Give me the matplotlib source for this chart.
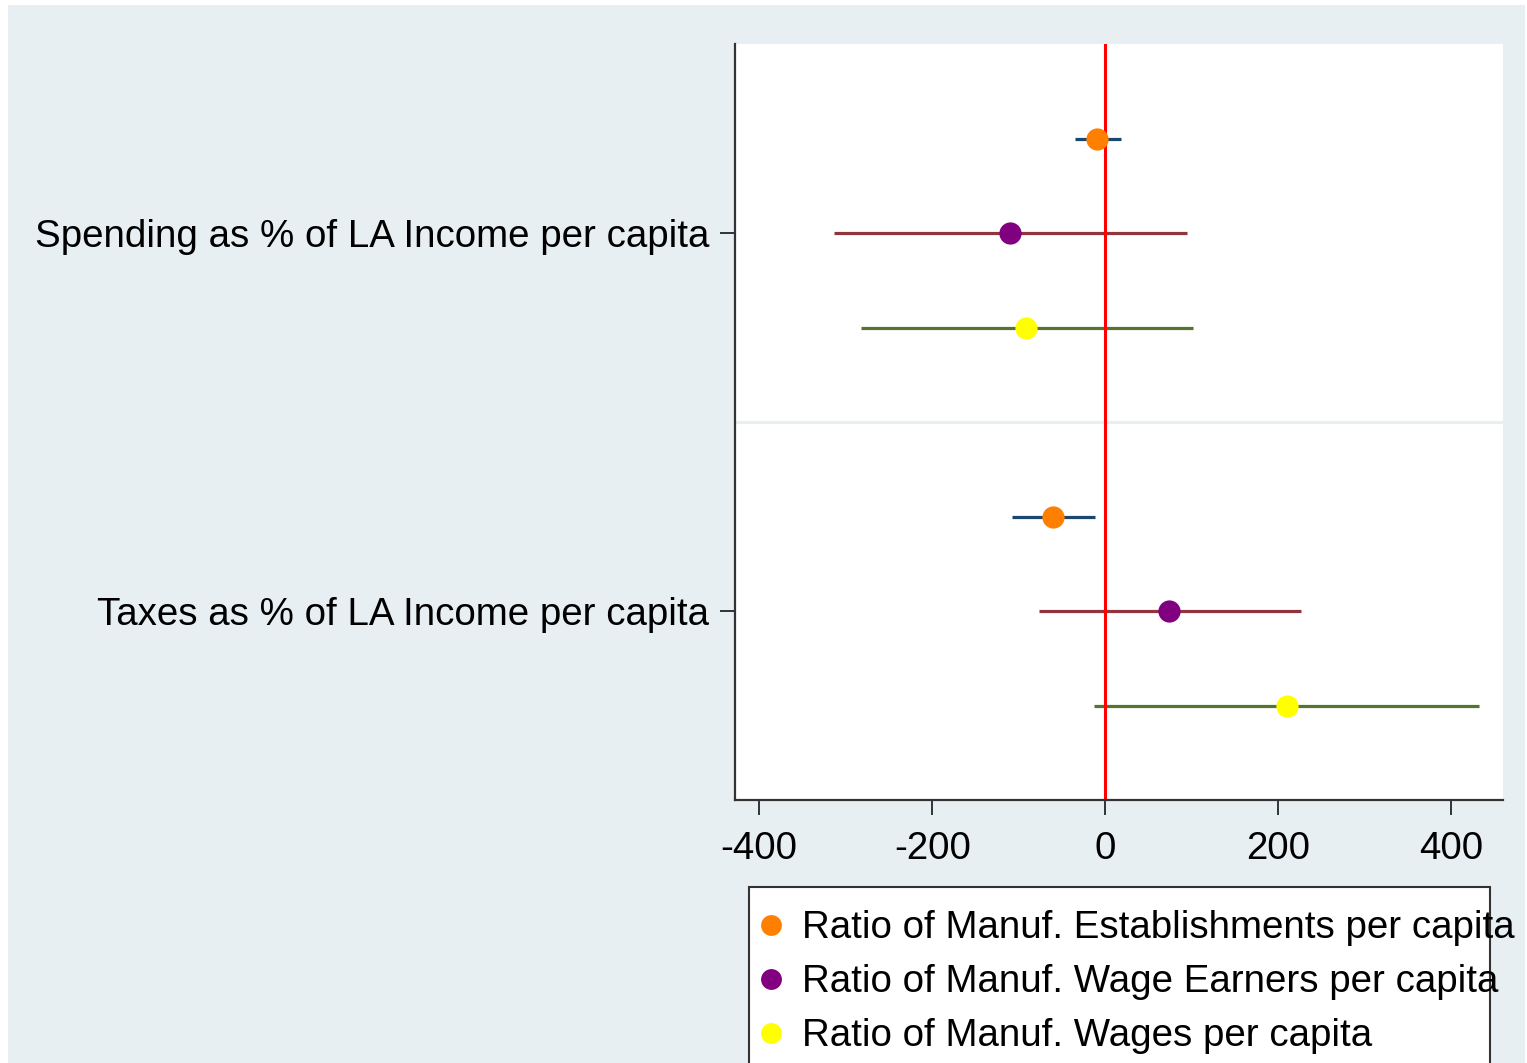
import matplotlib
matplotlib.use("Agg")
import matplotlib.pyplot as plt
from matplotlib.patches import Rectangle
from matplotlib.lines import Line2D

plt.rcParams['font.family'] = ['Liberation Sans', 'DejaVu Sans']

categories = ["Spending as % of LA Income per capita", "Taxes as % of LA Income per capita"]
series = ["Ratio of Manuf. Establishments per capita",
          "Ratio of Manuf. Wage Earners per capita",
          "Ratio of Manuf. Wages per capita"]
# estimates and confidence intervals: [spending, taxes]
est_estab = [-9, -60]
lo_estab = [-35, -108]
hi_estab = [18, -12]
est_earn = [-110, 74]
lo_earn = [-314, -76]
hi_earn = [95, 227]
est_wage = [-91, 210]
lo_wage = [-282, -13]
hi_wage = [101, 432]
xticks = [-400, -200, 0, 200, 400]

marker_colors = ["#ff7f00", "#800080", "#ffff00"]
ci_colors = ["#1a476f", "#90353b", "#55752f"]

W, H = 1527, 1063
fig = plt.figure(figsize=(W / 100, H / 100), dpi=100, facecolor="white")
fig.patches.append(Rectangle((8 / W, 0), (1525 - 8) / W, (H - 5) / H,
                             transform=fig.transFigure, facecolor="#e8eff2",
                             edgecolor="none", zorder=-5))

ax = fig.add_axes([735 / W, (H - 800) / H, (1503 - 735) / W, (800 - 44) / H])
ax.set_zorder(1)
ax.set_facecolor("white")

ests = [est_estab, est_earn, est_wage]
los = [lo_estab, lo_earn, lo_wage]
his = [hi_estab, hi_earn, hi_wage]

for ci, cat in enumerate(categories):
    base = ci * 4
    for si in range(3):
        y = base + si + 1
        ax.plot([los[si][ci], his[si][ci]], [y, y], color=ci_colors[si], lw=2.3,
                solid_capstyle="butt", zorder=2)
        ax.plot([ests[si][ci]], [y], "o", color=marker_colors[si], ms=16,
                mec="none", zorder=3)

ax.axhline(4, color="#e8eff2", lw=2.2, zorder=1)
ax.axvline(0, color="#ff0000", lw=2.2, zorder=2.5)

ax.set_ylim(8, 0)
ax.set_xlim(-428, 460)
ax.set_yticks([2, 6])
ax.set_yticklabels(categories)
ax.set_xticks(xticks)
ax.set_xticklabels([str(t) for t in xticks])

for s in ["top", "right"]:
    ax.spines[s].set_visible(False)
for s in ["left", "bottom"]:
    ax.spines[s].set_color("#333333")
    ax.spines[s].set_linewidth(1.6)
ax.tick_params(axis="y", length=10.5, width=1.4, color="#333333", pad=8, labelsize=27.7)
ax.tick_params(axis="x", length=10.5, width=1.4, color="#333333", pad=12, labelsize=27.7)

# legend frame (clipped by figure bottom as in the reference)
fig.patches.append(Rectangle((749 / W, -0.05), (1490 - 749) / W, (H - 887) / H + 0.05,
                             transform=fig.transFigure, facecolor="white",
                             edgecolor="#333333", lw=1.5, zorder=0.5))
handles = [Line2D([], [], ls="none", marker="o", ms=15, color=c, mec="none")
           for c in marker_colors]
leg = fig.legend(handles, series, loc="upper left",
                 bbox_to_anchor=(752 / W, (H - 910) / H), frameon=False,
                 fontsize=27.7, handlelength=1.0, handletextpad=0.31,
                 labelspacing=0.47, borderaxespad=0, borderpad=0)
leg.set_zorder(5)

fig.savefig("out.png", dpi=100, facecolor="white")
